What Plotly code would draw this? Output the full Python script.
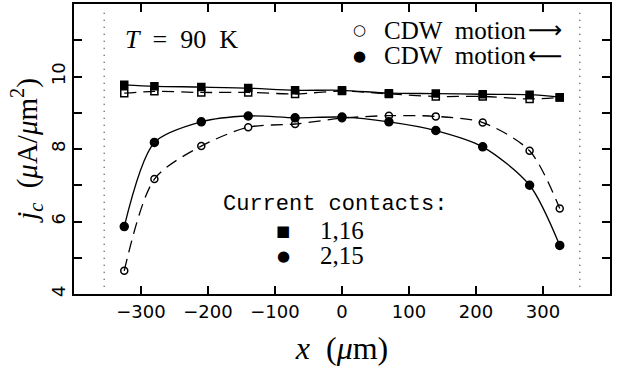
import plotly.graph_objects as go

# Position along the sample (um)
x_pos = [-325, -280, -210, -140, -70, 0, 70, 140, 210, 280, 325]

# Critical current density j_c (uA/um^2), T = 90 K
sq_fwd = [9.54, 9.59, 9.56, 9.56, 9.52, 9.60, 9.52, 9.45, 9.45, 9.38, 9.42]   # contacts 1,16, CDW motion ->
sq_bwd = [9.77, 9.73, 9.71, 9.68, 9.62, 9.62, 9.54, 9.53, 9.51, 9.50, 9.43]   # contacts 1,16, CDW motion <-
ci_fwd = [4.64, 7.17, 8.08, 8.60, 8.69, 8.85, 8.92, 8.90, 8.73, 7.95, 6.36]   # contacts 2,15, CDW motion ->
ci_bwd = [5.86, 8.18, 8.75, 8.91, 8.86, 8.88, 8.75, 8.51, 8.06, 7.00, 5.34]   # contacts 2,15, CDW motion <-

# Edges of the sample
edges = [-355, 355]

x_ticks = [-300, -200, -100, 0, 100, 200, 300]
x_tick_text = ["\u2212300", "\u2212200", "\u2212100", "0", "100", "200", "300"]
y_ticks = [4, 6, 8, 10]

SERIF = "Liberation Serif"
SANS = "DejaVu Sans"
MONO = "Liberation Mono"
BLACK = "black"
DASH = "12px,7px"
NB = "\u00a0"

fig = go.Figure()

series = [
    (sq_fwd, "square-open", DASH, 7),
    (sq_bwd, "square", "solid", 7),
    (ci_fwd, "circle-open", DASH, 7),
    (ci_bwd, "circle", "solid", 8),
]
for ys, sym, dash, size in series:
    fig.add_trace(go.Scatter(
        x=x_pos, y=ys, mode="lines+markers",
        line=dict(color=BLACK, width=1.3, dash=dash, shape="spline", smoothing=0.8),
        marker=dict(symbol=sym, size=size, color=BLACK, line=dict(color=BLACK, width=1.5)),
        showlegend=False, cliponaxis=False,
    ))

# dotted lines marking the sample edges
for xe in edges:
    fig.add_shape(type="line", x0=xe, x1=xe, y0=4.2, y1=11.8, xref="x", yref="y",
                  line=dict(color=BLACK, width=1, dash="1px,6px"))

ann = []
# temperature label
ann.append(dict(x=-327, y=11.03, xanchor="left", yanchor="middle",
                text="<i>T</i>" + NB * 2 + "=" + NB * 2 + "90" + NB * 2 + "K",
                font=dict(family=SERIF, size=26, color=BLACK)))
# CDW direction key
key_rows = [("\u25cb", "\u27f6", 11.27), ("\u25cf", "\u27f5", 10.57)]
for glyph, arrow, yy in key_rows:
    ann.append(dict(x=26, y=yy, xanchor="center", yanchor="middle", text=glyph,
                    font=dict(family=SANS, size=15, color=BLACK)))
    ann.append(dict(x=59, y=yy, xanchor="left", yanchor="middle",
                    text="CDW" + NB * 2 + "motion",
                    font=dict(family=SERIF, size=25, color=BLACK)))
    ann.append(dict(x=275, y=yy, xanchor="left", yanchor="middle", text=arrow,
                    font=dict(family=SANS, size=24, color=BLACK)))
# current contacts key
ann.append(dict(x=-181, y=6.47, xanchor="left", yanchor="middle",
                text="Current contacts:",
                font=dict(family=MONO, size=22, color=BLACK)))
for glyph, lab, yy in [("\u25a0", "1,16", 5.74), ("\u25cf", "2,15", 5.05)]:
    ann.append(dict(x=-88, y=yy, xanchor="center", yanchor="middle", text=glyph,
                    font=dict(family=SANS, size=15, color=BLACK)))
    ann.append(dict(x=-36, y=yy, xanchor="left", yanchor="middle", text=lab,
                    font=dict(family=SERIF, size=25, color=BLACK)))
for a in ann:
    a.setdefault("showarrow", False)
    a.setdefault("xref", "x")
    a.setdefault("yref", "y")

axis_common = dict(showline=True, linecolor=BLACK, linewidth=2, mirror="ticks",
                   ticks="inside", ticklen=8, tickwidth=1.5, tickcolor=BLACK,
                   showgrid=False, zeroline=False)

fig.update_layout(
    width=618, height=376,
    margin=dict(l=74, r=8, t=2, b=82),
    plot_bgcolor="white", paper_bgcolor="white",
    annotations=ann,
    xaxis=dict(range=[-400, 400], tickvals=x_ticks, ticktext=x_tick_text,
               tickfont=dict(family=SANS, size=18, color=BLACK),
               title=dict(text="<i>x</i>" + NB * 2 + "(<i>\u03bc</i>m)", standoff=16,
                          font=dict(family=SERIF, size=32, color=BLACK)),
               **axis_common),
    yaxis=dict(range=[4, 12], tickvals=y_ticks, tickangle=-90,
               minor=dict(dtick=1, ticks="inside", ticklen=8, tickwidth=1.5, tickcolor=BLACK),
               tickfont=dict(family=SANS, size=18, color=BLACK),
               title=dict(text="<i>j</i><sub><i>c</i></sub>" + NB * 2 +
                               "(<i>\u03bc</i>A/<i>\u03bc</i>m<sup>2</sup>)",
                          standoff=2, font=dict(family=SERIF, size=29, color=BLACK)),
               **axis_common),
)

fig.write_html("out.html")
